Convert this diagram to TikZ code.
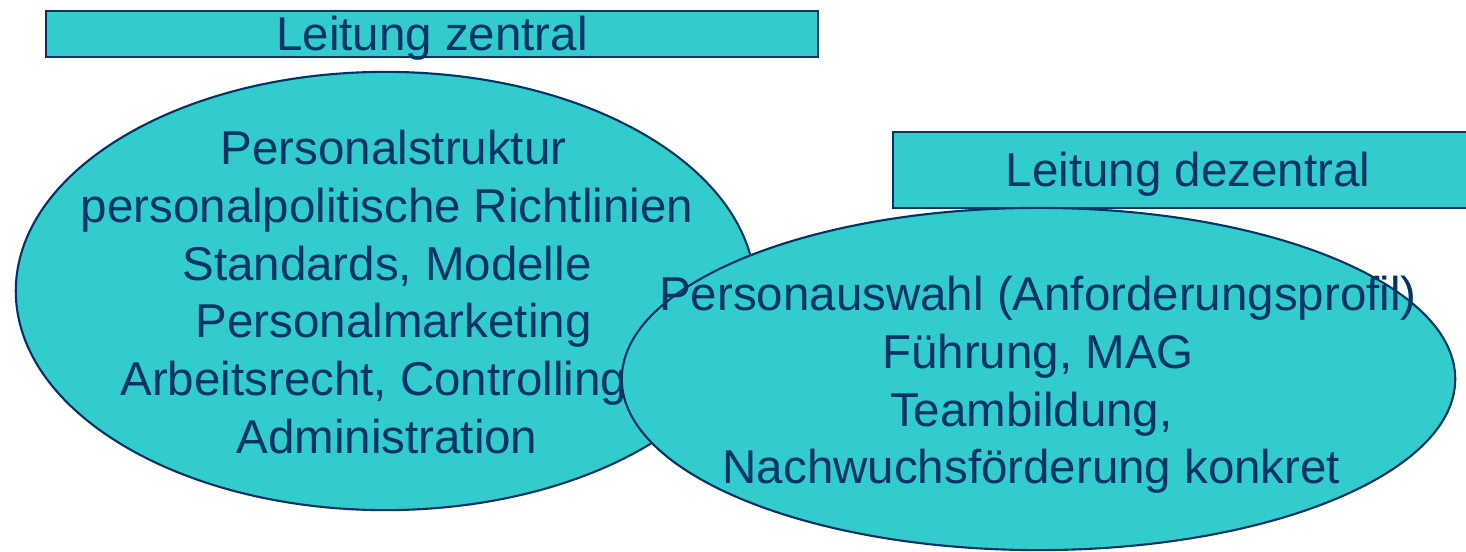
\documentclass[tikz,border=0pt]{standalone}
\usepackage{fontspec}
\setmainfont{Liberation Sans}
\usepackage{xcolor}
\usetikzlibrary{calc}
\definecolor{tuerkis}{RGB}{51,204,204}
\definecolor{navy}{RGB}{0,51,102}
\newcommand{\lz}{\hphantom{\ }}

\begin{document}
\begin{tikzpicture}[x=0.01cm,y=-0.01cm,
    feld/.style={fill=tuerkis,draw=navy,line width=0.6pt},
    schrift/.style={text=navy,align=center,inner sep=0pt,
      font=\fontsize{13.5pt}{16.4pt}\selectfont}]
    \useasboundingbox (0,0) rectangle (1466,551);
    %\draw[step=100, gray,very thin] (0,0) grid (1466,551);
    \begin{scope}
    \clip (0,0) rectangle (1466,551);
    \draw[feld] (46,11) rectangle (818,57);
    \node[schrift] (zentral) at (432,38) {Leitung zentral};

    \draw[feld] (893,132) rectangle (1490,208);
    \node[schrift] (dezentral) at (1188,174) {Leitung dezentral};

    \draw[feld] (385.5,291) ellipse [x radius=3.695cm, y radius=2.19cm];
    \node[schrift] (aufgabenZ) at (387,292) {\lz Personalstruktur\\
      personalpolitische Richtlinien\\Standards, Modelle\\
      \lz Personalmarketing\\Arbeitsrecht, Controlling\lz\lz\\Administration};

    \draw[feld] (1038.5,379) ellipse [x radius=4.165cm, y radius=1.71cm];
    \node[schrift] (aufgabenD) at (1038,385) {Personauswahl (Anforderungsprofil)\\
      Führung, MAG\\Teambildung,\lz\\Nachwuchsförderung konkret\lz};
    \end{scope}
    \end{tikzpicture}
\end{document}
